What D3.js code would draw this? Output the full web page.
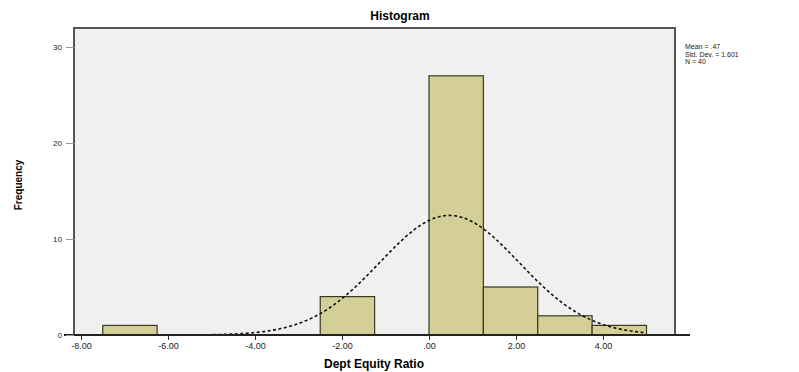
<!DOCTYPE html>
<html>
<head>
<meta charset="utf-8">
<script src="https://cdn.jsdelivr.net/npm/d3@7"></script>
<style>
  body { margin: 0; background: #fff; }
  svg { display: block; }
  text { font-family: "Liberation Sans", Arial, sans-serif; }
</style>
</head>
<body>
<svg id="chart" width="799" height="372"></svg>
<script>
// Histogram bins (lower edge, upper edge) and their frequencies
const binStarts = [-7.5, -6.25, -5, -3.75, -2.5, -1.25, 0, 1.25, 2.5, 3.75];
const binWidth = 1.25;
const counts = [1, 0, 0, 0, 4, 0, 27, 5, 2, 1];

// Summary statistics for the fitted normal curve
const meanValue = 0.47;
const stdDev = 1.601;
const nTotal = 40;
const legendLines = ["Mean = .47", "Std. Dev. = 1.601", "N = 40"];

// Axis ticks
const xTicks = [-8, -6, -4, -2, 0, 2, 4];
const yTicks = [0, 10, 20, 30];

const svg = d3.select("#chart");
const frame = { left: 74, right: 675, top: 28, bottom: 335 };

const x = d3.scaleLinear().domain([-8, 4]).range([81, 603]);
const y = d3.scaleLinear().domain([0, 30]).range([335, 47]);

// plot background
svg.append("rect")
  .attr("x", frame.left).attr("y", frame.top)
  .attr("width", frame.right - frame.left)
  .attr("height", frame.bottom - frame.top)
  .attr("fill", "#f0f0f0");

// bars
svg.append("g").selectAll("rect")
  .data(binStarts.map((s, i) => ({ s, c: counts[i] })).filter(d => d.c > 0))
  .join("rect")
  .attr("x", d => x(d.s))
  .attr("y", d => y(d.c))
  .attr("width", d => x(d.s + binWidth) - x(d.s))
  .attr("height", d => y(0) - y(d.c))
  .attr("fill", "#d3cf96")
  .attr("stroke", "#3a3a22")
  .attr("stroke-width", 1.2);

// frame
svg.append("rect")
  .attr("x", frame.left).attr("y", frame.top)
  .attr("width", frame.right - frame.left)
  .attr("height", frame.bottom - frame.top)
  .attr("fill", "none")
  .attr("stroke", "#555")
  .attr("stroke-width", 2);

// normal curve scaled to counts
const curvePts = d3.range(-7.5, 5.001, 0.05).map(v => [
  v,
  nTotal * binWidth / (stdDev * Math.sqrt(2 * Math.PI)) *
    Math.exp(-0.5 * Math.pow((v - meanValue) / stdDev, 2))
]);
svg.append("path")
  .datum(curvePts)
  .attr("fill", "none")
  .attr("stroke", "#111")
  .attr("stroke-width", 1.6)
  .attr("stroke-dasharray", "3,2.5")
  .attr("d", d3.line().x(d => x(d[0])).y(d => y(d[1])).curve(d3.curveBasis));

// x axis
const fmt2 = d3.format(".2f");
const xAxis = svg.append("g")
  .attr("transform", `translate(0,${frame.bottom})`)
  .call(d3.axisBottom(x).tickValues(xTicks).tickSize(5).tickPadding(3)
    .tickFormat(d => d === 0 ? ".00" : fmt2(d).replace("\u2212", "-")));
xAxis.select(".domain").remove();
xAxis.selectAll("text").attr("font-size", 9).attr("fill", "#222");
xAxis.selectAll("line").attr("stroke", "#333");
svg.append("line")
  .attr("x1", 64).attr("x2", 690)
  .attr("y1", frame.bottom).attr("y2", frame.bottom)
  .attr("stroke", "#222").attr("stroke-width", 2);

// y axis
const yAxis = svg.append("g")
  .attr("transform", `translate(${frame.left},0)`)
  .call(d3.axisLeft(y).tickValues(yTicks).tickSize(8).tickPadding(4));
yAxis.select(".domain").remove();
yAxis.selectAll("text").attr("font-size", 8).attr("fill", "#222");
yAxis.selectAll("line").attr("stroke", "#999");

// titles
svg.append("text")
  .attr("x", 400).attr("y", 20)
  .attr("text-anchor", "middle")
  .attr("font-size", 12).attr("font-weight", "bold")
  .text("Histogram");

svg.append("text")
  .attr("x", 374).attr("y", 368)
  .attr("text-anchor", "middle")
  .attr("font-size", 12).attr("font-weight", "bold")
  .text("Dept Equity Ratio");

svg.append("text")
  .attr("transform", "translate(22,185) rotate(-90)")
  .attr("text-anchor", "middle")
  .attr("font-size", 10).attr("font-weight", "bold")
  .text("Frequency");

// statistics legend
svg.append("g").selectAll("text")
  .data(legendLines)
  .join("text")
  .attr("x", 685)
  .attr("y", (d, i) => 49 + i * 7.5)
  .attr("font-size", 7)
  .attr("fill", "#222")
  .text(d => d);
</script>
</body>
</html>
